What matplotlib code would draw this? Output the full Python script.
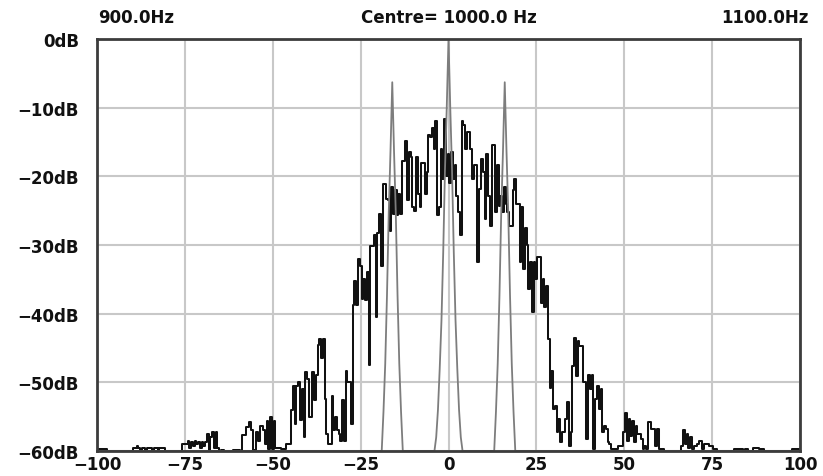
import numpy as np
import matplotlib
matplotlib.use('Agg')
import matplotlib.pyplot as plt

# frequency offset from the centre (Hz), 0.5 Hz bins from -100 to +100
f_start = -100.0
f_stop = 100.0
f_step = 0.5

# measured spectrum (black trace) in dB, 10 bins per row, row start in comment
black_db = [
    -59.7, -59.7, -59.7, -59.7, -59.7, -59.7, -60, -60, -60, -60,            # -100
    -60, -60, -60, -60, -60, -60, -60, -60, -60, -60,                        # -95
    -60, -59.5, -59.5, -59.2, -59.5, -59.8, -59.5, -59.5, -60, -59.5,        # -90
    -59.5, -59.5, -60, -59.5, -59.5, -60, -59.5, -59.5, -59.5, -60,          # -85
    -60, -60, -60, -60, -60, -60, -60, -60, -60, -59,                        # -80
    -59, -59, -58.5, -59.5, -58.7, -59.2, -58.5, -59, -58.7, -59.5,          # -75
    -58.7, -59.3, -58.7, -57.5, -59.8, -58, -57.2, -59.5, -57.3, -59.5,      # -70
    -60, -59.8, -59.8, -60, -60, -60, -60, -60, -59.8, -59.8,                # -65
    -59.8, -59.8, -60, -57.6, -57.6, -56.5, -56.5, -55.8, -57, -59.8,        # -60
    -59.8, -57.3, -58.5, -56.3, -56.3, -57, -59, -55.6, -59.7, -55,          # -55
    -59.7, -55.6, -59.5, -59.5, -59.5, -59.7, -59.7, -59.7, -59, -59,        # -50
    -59, -54, -50.5, -56, -50.5, -50, -55.5, -51, -58, -48.5,                # -45
    -49.5, -55, -55, -48.5, -52.5, -49, -44.5, -43.7, -46.5, -43.7,          # -40
    -52.4, -57.5, -59, -59, -52, -57, -55, -57, -57.5, -58.5,                # -35
    -52.5, -58.5, -48.4, -50, -50, -56, -38.8, -35.2, -38.8, -32,            # -30
    -33, -37.8, -35, -38, -34, -47.5, -30.1, -30.1, -28.6, -40.5,            # -25
    -28.3, -25.5, -33, -21.1, -21.1, -23.3, -23.5, -28, -21.5, -25.5,        # -20
    -22, -25.7, -22.5, -25.5, -17.7, -17.7, -14.8, -23.5, -16.5, -17.2,      # -15
    -24.5, -25, -17.2, -22.5, -24.5, -18, -18, -22.5, -19.4, -14,            # -10
    -14.3, -13, -16, -11.9, -25.7, -24.5, -16, -20.4, -11.6, -19.9,          # -5
    -16.7, -20.9, -16.5, -20.4, -18.4, -22.8, -25.2, -28.6, -11.9, -12.5,    # 0
    -16, -13.6, -13.6, -16, -20.4, -18.4, -18.4, -32.5, -21.8, -17.5,        # 5
    -19.4, -26.2, -16.7, -22.8, -27.2, -15.5, -15.5, -25.2, -18.4, -24.3,    # 10
    -22.8, -25.2, -21.6, -24, -25.2, -27.2, -27.2, -22, -20.4, -24,          # 15
    -24, -32.5, -24.5, -33.5, -27.5, -30, -36.4, -32.5, -39.8, -32.5,        # 20
    -35, -31.8, -31.8, -38.4, -35, -39, -36, -43.7, -50.8, -48.3,            # 25
    -53.9, -53.4, -57.3, -55.3, -58.7, -57.3, -57.3, -55.3, -52.9, -59.2,    # 30
    -57.3, -47.6, -43.5, -49.1, -44, -44.7, -44.7, -50, -50, -58.2,          # 35
    -49, -51, -49, -59.7, -52.4, -50.5, -53.9, -51, -57.3, -56.3,            # 40
    -56.8, -58.7, -59, -59.7, -59.7, -59.7, -59.7, -59.2, -59.2, -59.2,      # 45
    -57.3, -54.4, -58.5, -55.3, -57.8, -55.6, -58.7, -56.3, -57.5, -57.5,    # 50
    -58.2, -59.7, -59.2, -59.7, -55.8, -55.8, -56.8, -56.8, -59.2, -56.8,    # 55
    -59.7, -59.7, -59.7, -60, -60, -60, -60, -60, -60, -60,                  # 60
    -60, -60, -60, -59.2, -57, -59, -57.5, -59.5, -58, -59.7,                # 65
    -59.2, -59.2, -59, -58.5, -58.5, -59.7, -59, -59, -59, -59.2,            # 70
    -59.2, -59.7, -59.7, -60, -60, -60, -60, -60, -60, -60,                  # 75
    -60, -60, -60, -59.7, -59.7, -59.7, -59.7, -59.7, -60, -59.7,            # 80
    -59.7, -60, -60, -60, -59.5, -59.5, -59.5, -59.7, -59.7, -59.7,          # 85
    -60, -60, -60, -60, -60, -60, -60, -60, -60, -60,                        # 90
    -60, -60, -60, -60, -60, -60, -59.7, -59.7, -59.7, -59.7,                # 95
    -59.7,                                                                   # 100
]

# reference tones (grey trace)
tone_freq = [-16, 0, 16]
tone_level = [-6.3, 0.0, -6.3]
# one tone's lobe: dB below its peak, every 0.5 Hz away from it
lobe_db = [0, -10, -19, -31, -41, -48, -54, -58, -60]
floor_db = -60.0

xticks = [-100, -75, -50, -25, 0, 25, 50, 75, 100]
yticks = [0, -10, -20, -30, -40, -50, -60]
ylabels = ['0dB', '\u221210dB', '\u221220dB', '\u221230dB', '\u221240dB', '\u221250dB', '\u221260dB']

freq = np.arange(f_start, f_stop + f_step / 2, f_step)
black = np.array(black_db, dtype=float)

grey = np.full(len(freq), floor_db)
for f0, lvl in zip(tone_freq, tone_level):
    i0 = int(np.argmin(np.abs(freq - f0)))
    for k, d in enumerate(lobe_db):
        for i in (i0 - k, i0 + k):
            grey[i] = max(grey[i], lvl + d)
grey = np.maximum(grey, floor_db)

W, H = 823, 477
fig = plt.figure(figsize=(W / 100, H / 100), dpi=100)
ax = fig.add_axes([97 / W, 25 / H, 703 / W, 412 / H])

ax.step(freq, black, where='mid', color='#111111', lw=1.45, zorder=2)
ax.plot(freq, grey, color='#7d7d7d', lw=1.3, zorder=2.2)

ax.set_xlim(-100, 100)
ax.set_ylim(-60, 0)
ax.set_xticks(xticks)
ax.set_yticks(yticks)
ax.set_yticklabels(ylabels)
ax.grid(True, color='#c8c8c8', lw=1.5, zorder=0)
ax.set_axisbelow(True)
ax.tick_params(length=0)
ax.tick_params(axis='y', pad=13)
ax.tick_params(axis='x', pad=3)
for lab in ax.get_xticklabels() + ax.get_yticklabels():
    lab.set_fontweight('bold')
    lab.set_fontsize(12)
    lab.set_color('#111111')
for sp in ax.spines.values():
    sp.set_color('#3c3c3c')
    sp.set_linewidth(2)
    sp.set_zorder(3)

ty = 1 - 18 / H
fig.text(136 / W, ty, '900.0Hz', ha='center', va='center', fontsize=12, fontweight='bold', color='#111111')
fig.text(449 / W, ty, 'Centre= 1000.0 Hz', ha='center', va='center', fontsize=12, fontweight='bold', color='#111111')
fig.text(765 / W, ty, '1100.0Hz', ha='center', va='center', fontsize=12, fontweight='bold', color='#111111')

fig.savefig('out.png', dpi=100)
